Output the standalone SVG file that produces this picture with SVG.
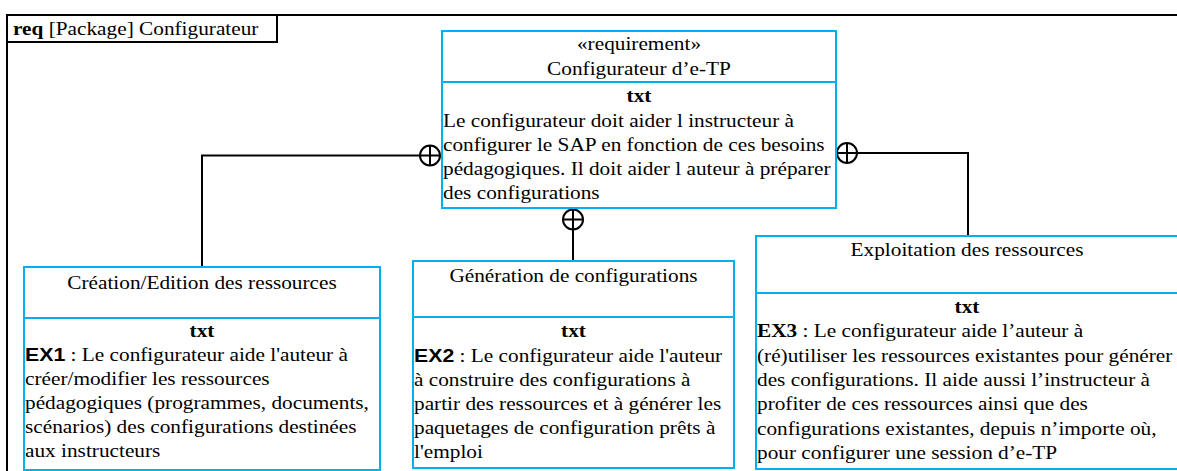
<svg xmlns="http://www.w3.org/2000/svg" xmlns:xlink="http://www.w3.org/1999/xlink" width="1177" height="471" viewBox="0 0 1177 471">
<style>
.frame{fill:none;stroke:#000;stroke-width:2}
.box{fill:#fff;stroke:#00B0F0;stroke-width:2}
.div{stroke:#00B0F0;stroke-width:2}
.conn{fill:none;stroke:#000;stroke-width:2}
.t{font-family:"Liberation Serif","Times New Roman",serif;font-size:18px;fill:#000}
.c{text-anchor:middle}
.b{font-weight:bold}
.sb{font-family:"Liberation Sans",Arial,sans-serif;font-weight:bold}
</style>
<defs>
<g id="contain">
<circle cx="0" cy="0" r="10" fill="#fff" stroke="#000" stroke-width="2"/>
<path d="M-10,0H10M0,-10V10" stroke="#000" stroke-width="2"/>
</g>
</defs>
<g id="frame">
<path class="frame" d="M7,472V15H1178"/>
<rect class="frame" x="7" y="15" width="270" height="27"/>
<text class="t" transform="matrix(1.183 0 0 1 13 35)"><tspan class="b">req</tspan> [Package] Configurateur</text>
</g>
<g id="connectors">
<path class="conn" d="M420,155.5H202V267"/>
<path class="conn" d="M573,229.5V261"/>
<path class="conn" d="M857,153H968V236"/>
<use xlink:href="#contain" x="430" y="155.5"/>
<use xlink:href="#contain" x="573" y="219.5"/>
<use xlink:href="#contain" x="847" y="153"/>
</g>
<g id="req">
<rect class="box" x="442" y="31" width="394" height="177"/>
<line class="div" x1="442" y1="82" x2="836" y2="82"/>
<text class="t c" transform="matrix(1.183 0 0 1 639 50)">«requirement»</text>
<text class="t c" transform="matrix(1.183 0 0 1 639 75)">Configurateur d’e-TP</text>
<text class="t c b" transform="matrix(1.183 0 0 1 639 102)">txt</text>
<text class="t" transform="matrix(1.183 0 0 1 443 126.5)">Le configurateur doit aider l instructeur à</text>
<text class="t" transform="matrix(1.183 0 0 1 443 150.5)">configurer le SAP en fonction de ces besoins</text>
<text class="t" transform="matrix(1.183 0 0 1 443 174.5)">pédagogiques. Il doit aider l auteur à préparer</text>
<text class="t" transform="matrix(1.183 0 0 1 443 198.5)">des configurations</text>
</g>
<g id="creation">
<rect class="box" x="24" y="267" width="356" height="203"/>
<line class="div" x1="24" y1="318" x2="380" y2="318"/>
<text class="t c" transform="matrix(1.183 0 0 1 202 289)">Création/Edition des ressources</text>
<text class="t c b" transform="matrix(1.183 0 0 1 202 337)">txt</text>
<text class="t" transform="matrix(1.183 0 0 1 25 361)"><tspan class="sb">EX1</tspan> : Le configurateur aide l'auteur à</text>
<text class="t" transform="matrix(1.183 0 0 1 25 385)">créer/modifier les ressources</text>
<text class="t" transform="matrix(1.183 0 0 1 25 409)">pédagogiques (programmes, documents,</text>
<text class="t" transform="matrix(1.183 0 0 1 25 433)">scénarios) des configurations destinées</text>
<text class="t" transform="matrix(1.183 0 0 1 25 457)">aux instructeurs</text>
</g>
<g id="generation">
<rect class="box" x="413" y="261" width="321" height="207"/>
<line class="div" x1="413" y1="317" x2="734" y2="317"/>
<text class="t c" transform="matrix(1.183 0 0 1 573.5 282)">Génération de configurations</text>
<text class="t c b" transform="matrix(1.183 0 0 1 573.5 337)">txt</text>
<text class="t" transform="matrix(1.183 0 0 1 414 362)"><tspan class="sb">EX2</tspan> : Le configurateur aide l'auteur</text>
<text class="t" transform="matrix(1.183 0 0 1 414 386)">à construire des configurations à</text>
<text class="t" transform="matrix(1.183 0 0 1 414 410)">partir des ressources et à générer les</text>
<text class="t" transform="matrix(1.183 0 0 1 414 434)">paquetages de configuration prêts à</text>
<text class="t" transform="matrix(1.183 0 0 1 414 458)">l'emploi</text>
</g>
<g id="exploitation">
<rect class="box" x="756" y="236" width="422" height="233"/>
<line class="div" x1="756" y1="293" x2="1178" y2="293"/>
<text class="t c" transform="matrix(1.183 0 0 1 967 256)">Exploitation des ressources</text>
<text class="t c b" transform="matrix(1.183 0 0 1 967 313)">txt</text>
<text class="t" transform="matrix(1.183 0 0 1 757 337)"><tspan class="b">EX3</tspan> : Le configurateur aide l’auteur à</text>
<text class="t" transform="matrix(1.183 0 0 1 757 361.5)">(ré)utiliser les ressources existantes pour générer</text>
<text class="t" transform="matrix(1.183 0 0 1 757 386)">des configurations. Il aide aussi l’instructeur à</text>
<text class="t" transform="matrix(1.183 0 0 1 757 410)">profiter de ces ressources ainsi que des</text>
<text class="t" transform="matrix(1.183 0 0 1 757 434.5)">configurations existantes, depuis n’importe où,</text>
<text class="t" transform="matrix(1.183 0 0 1 757 459)">pour configurer une session d’e-TP</text>
</g>
</svg>
